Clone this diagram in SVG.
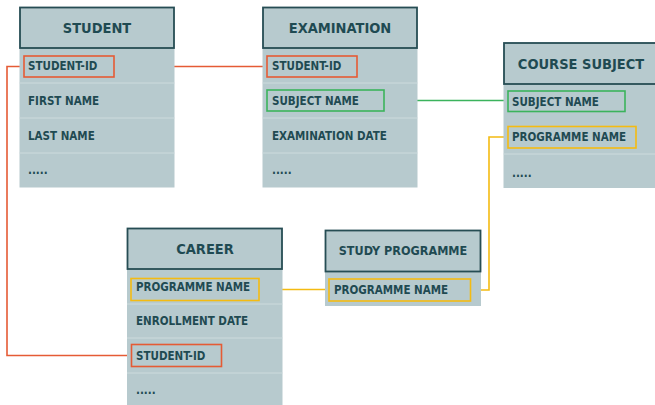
<svg xmlns="http://www.w3.org/2000/svg" width="655" height="405" viewBox="0 0 655 405">
<style>
.hdr{fill:#b7cace;stroke:#264d54;stroke-width:1.8}
.body{fill:#b7cace}
.sep{stroke:#cddbdd;stroke-width:1}
.ht{font-family:"DejaVu Sans Condensed","DejaVu Sans",sans-serif;font-weight:bold;font-size:14.5px;fill:#1f4a52;text-anchor:middle}
.rt{font-family:"DejaVu Sans Condensed","DejaVu Sans",sans-serif;font-weight:bold;font-size:11.5px;fill:#1f4a52}
.red{fill:none;stroke:#e55b35;stroke-width:1.6}
.grn{fill:none;stroke:#3bb35c;stroke-width:1.6}
.yel{fill:none;stroke:#f4bb12;stroke-width:1.6}
</style>
<rect width="655" height="405" fill="#ffffff"/>
<g id="connectors">
<path class="red" d="M114,66.5 H267"/>
<path class="red" d="M24,66.5 H7 V355.5 H131"/>
<path class="grn" d="M384,100.5 H508"/>
<path class="yel" d="M259,289.5 H329"/>
<path class="yel" d="M471,290 H489 V137 H508"/>
</g>
<g id="student">
<rect class="body" x="19.5" y="48" width="155" height="139.5"/>
<line class="sep" x1="19.5" y1="83" x2="174.5" y2="83"/>
<line class="sep" x1="19.5" y1="118" x2="174.5" y2="118"/>
<line class="sep" x1="19.5" y1="153" x2="174.5" y2="153"/>
<rect class="hdr" x="20" y="7.5" width="154" height="40.5"/>
<text class="ht" x="97" y="33">STUDENT</text>
<rect class="red" x="24" y="56" width="90" height="21"/>
<text class="rt" x="28" y="70">STUDENT-ID</text>
<text class="rt" x="28" y="105">FIRST NAME</text>
<text class="rt" x="28" y="140">LAST NAME</text>
<text class="rt" x="28" y="174">.....</text>
</g>
<g id="examination">
<rect class="body" x="262.5" y="48" width="155" height="139.5"/>
<line class="sep" x1="262.5" y1="83" x2="417.5" y2="83"/>
<line class="sep" x1="262.5" y1="118" x2="417.5" y2="118"/>
<line class="sep" x1="262.5" y1="153" x2="417.5" y2="153"/>
<rect class="hdr" x="263" y="7.5" width="154" height="40.5"/>
<text class="ht" x="340" y="33">EXAMINATION</text>
<rect class="red" x="267" y="56" width="90" height="21"/>
<text class="rt" x="272" y="70">STUDENT-ID</text>
<rect class="grn" x="267" y="90" width="117" height="21"/>
<text class="rt" x="272" y="105">SUBJECT NAME</text>
<text class="rt" x="272" y="140">EXAMINATION DATE</text>
<text class="rt" x="272" y="174">.....</text>
</g>
<g id="course-subject">
<rect class="body" x="503.5" y="84" width="155" height="104"/>
<line class="sep" x1="503.5" y1="154" x2="658" y2="154"/>
<rect class="hdr" x="504" y="43" width="154" height="41"/>
<text class="ht" x="581" y="68.5">COURSE SUBJECT</text>
<rect class="grn" x="508" y="91" width="117" height="20.5"/>
<text class="rt" x="512" y="106">SUBJECT NAME</text>
<rect class="yel" x="508" y="126.5" width="128" height="21.5"/>
<text class="rt" x="512" y="141">PROGRAMME NAME</text>
<text class="rt" x="512" y="177">.....</text>
</g>
<g id="career">
<rect class="body" x="127" y="269" width="155.5" height="136"/>
<line class="sep" x1="127" y1="304" x2="282.5" y2="304"/>
<line class="sep" x1="127" y1="338" x2="282.5" y2="338"/>
<line class="sep" x1="127" y1="373" x2="282.5" y2="373"/>
<rect class="hdr" x="127.5" y="228.5" width="154.5" height="40.5"/>
<text class="ht" x="205" y="254">CAREER</text>
<rect class="yel" x="131" y="278.5" width="128" height="22"/>
<text class="rt" x="136" y="291">PROGRAMME NAME</text>
<text class="rt" x="136" y="325">ENROLLMENT DATE</text>
<rect class="red" x="131.5" y="344.5" width="90" height="22"/>
<text class="rt" x="136" y="359.5">STUDENT-ID</text>
<text class="rt" x="136" y="394">.....</text>
</g>
<g id="study-programme">
<rect class="body" x="325" y="271" width="156" height="35"/>
<rect class="hdr" x="325.5" y="230.5" width="155" height="41"/>
<text class="ht" x="403" y="255" style="font-size:12.5px">STUDY PROGRAMME</text>
<rect class="yel" x="329" y="279" width="141.5" height="22"/>
<text class="rt" x="334" y="294">PROGRAMME NAME</text>
</g>
</svg>
